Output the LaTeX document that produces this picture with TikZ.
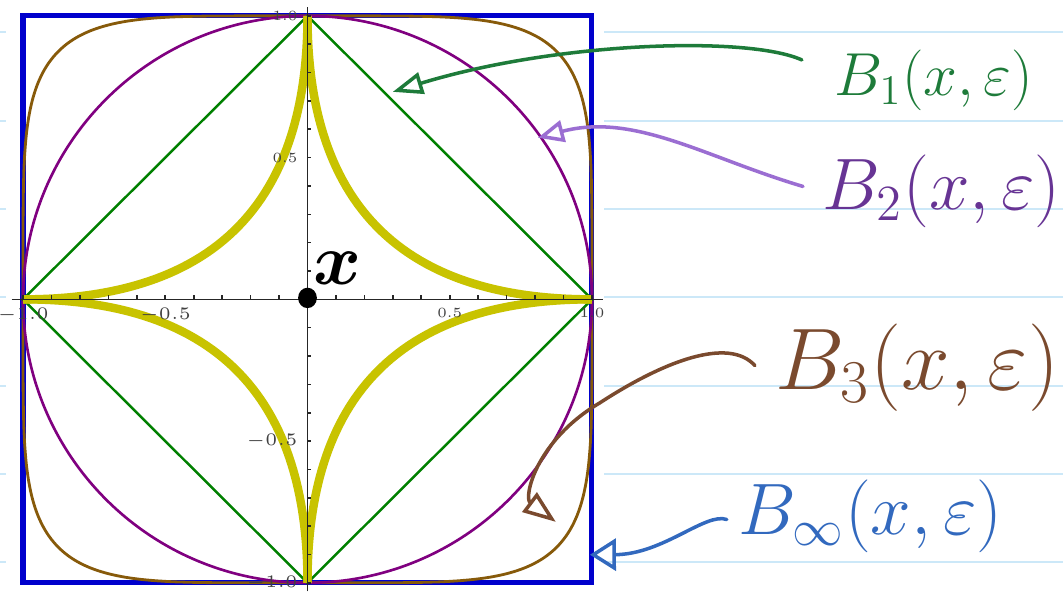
\documentclass[tikz,border=0pt]{standalone}
\usepackage{tikz}
\usetikzlibrary{arrows.meta}
\definecolor{notebook}{HTML}{CCE8F8}
\definecolor{ballinf}{HTML}{0000CC}
\definecolor{ballthree}{HTML}{875A0A}
\definecolor{balltwo}{HTML}{800080}
\definecolor{ballone}{HTML}{008000}
\definecolor{ballhalf}{HTML}{C8C300}
\definecolor{inkgreen}{HTML}{1E7B3A}
\definecolor{inkpurple}{HTML}{673494}
\definecolor{inklilac}{HTML}{9B6ED2}
\definecolor{inkbrown}{HTML}{7A4A2E}
\definecolor{inkblue}{HTML}{3269BE}
\definecolor{tickgray}{HTML}{404040}

\begin{document}
\begin{tikzpicture}[x=2.845cm, y=2.835cm,
    every node/.style={inner sep=0pt},
    ruled/.style={notebook, line width=0.6pt},
    axisline/.style={black!85, line width=0.45pt},
    tickval/.style={font=\fontsize{4}{5}\selectfont, text=tickgray},
    handlabel/.style={font=\fontsize{#1}{#1}\selectfont, anchor=base west},
    handlabel/.default=20,
    handarrow/.style={line width=1pt, line cap=round, line join=round, -{Triangle[open, length=3mm, width=2.2mm]}},
]
% page with ruling, plot pasted on top
\useasboundingbox (-1.081,-1.032) rectangle (2.656,1.056);
\foreach \y in {0.944,0.630,0.319,0.009,-0.305,-0.616,-0.926}
    \draw[ruled] (-1.081,\y) -- (2.656,\y);
\fill[white] (-1.06,-1.032) rectangle (1.042,1.056);
% unit balls
\draw[ballinf, line width=1.45pt] (-1,-1) rectangle (1,1);
\foreach \sx/\sy in {1/1,-1/1,-1/-1,1/-1}
    \draw[ballthree, line width=0.8pt, line join=round, xscale=\sx, yscale=\sy] (1,0) -- plot[domain=0.2:89.8, samples=90] ({pow(cos(\x),0.385)},{pow(sin(\x),0.385)}) -- (0,1);
\draw[balltwo, line width=0.75pt] (0,0) circle [radius=1];
\draw[ballone, line width=0.7pt] (1,0) -- (0,1) -- (-1,0) -- (0,-1) -- cycle;
\foreach \sx/\sy in {1/1,-1/1,-1/-1,1/-1}
    \draw[ballhalf, line width=2.4pt, xscale=\sx, yscale=\sy] plot[domain=0:90, samples=90] ({pow(cos(\x),4)},{pow(sin(\x),4)});
% axes
\draw[axisline] (-1.04,0) -- (1.04,0);
\draw[axisline] (0,-1.03) -- (0,1.03);
\foreach \i in {-10,...,10} {
    \draw[axisline] (\i/10,0) -- (\i/10,0.014);
    \draw[axisline] (0,\i/10) -- (0.014,\i/10);
}
\foreach \v/\t [count=\k] in {-1/{$-1.0$},-0.5/{$-0.5$},0.5/{0.5},1/{1.0}} {
    \node[tickval, anchor=north] (xtick\k) at (\v,-0.028) {\t};
    \node[tickval, anchor=east] (ytick\k) at (-0.033,\v) {\t};
}
% the point x
\fill (0,0.005) ellipse [x radius=0.033, y radius=0.036];
\node[font=\fontsize{22}{22}\selectfont\boldmath] (xmark) at (0.105,0.11) {$x$};
% handwritten labels
\node[handlabel=18.5, text=inkgreen] (b1) at (1.85,0.718) {$B_1(x,\varepsilon)$};
\node[handlabel, text=inkpurple] (b2) at (1.808,0.316) {$B_2(x,\varepsilon)$};
\node[handlabel=23.5, text=inkbrown] (b3) at (1.643,-0.319) {$B_3(x,\varepsilon)$};
\node[handlabel, text=inkblue] (binf) at (1.513,-0.831) {$B_\infty(x,\varepsilon)$};
\coordinate (tip1) at (0.30,0.732);
\coordinate (tip2) at (0.81,0.57);
\coordinate (tip3) at (0.873,-0.785);
\coordinate (tipinf) at (0.993,-0.901);
\draw[handarrow, inkgreen] (b1.west) ++(-0.112,0.073) .. controls (1.55,0.93) and (0.88,0.91) .. (tip1);
\draw[handarrow, inklilac, -{Triangle[open, length=2.6mm, width=2.2mm]}] (b2.west) ++(-0.066,0.018) .. controls (1.40,0.50) and (1.15,0.66) .. (tip2);
\draw[handarrow, inkbrown, -{Triangle[open, length=3.3mm, width=2.4mm]}] (b3.west) ++(-0.07,0.008) .. controls (1.48,-0.13) and (1.25,-0.22) .. (1.028,-0.365) .. controls (0.80,-0.50) and (0.76,-0.70) .. (tip3);
\draw[handarrow, inkblue, -{Triangle[open, length=2.6mm, width=3.2mm]}] (binf.west) ++(-0.039,-0.01) .. controls (1.40,-0.75) and (1.25,-0.90) .. (tipinf);
\end{tikzpicture}
\end{document}
